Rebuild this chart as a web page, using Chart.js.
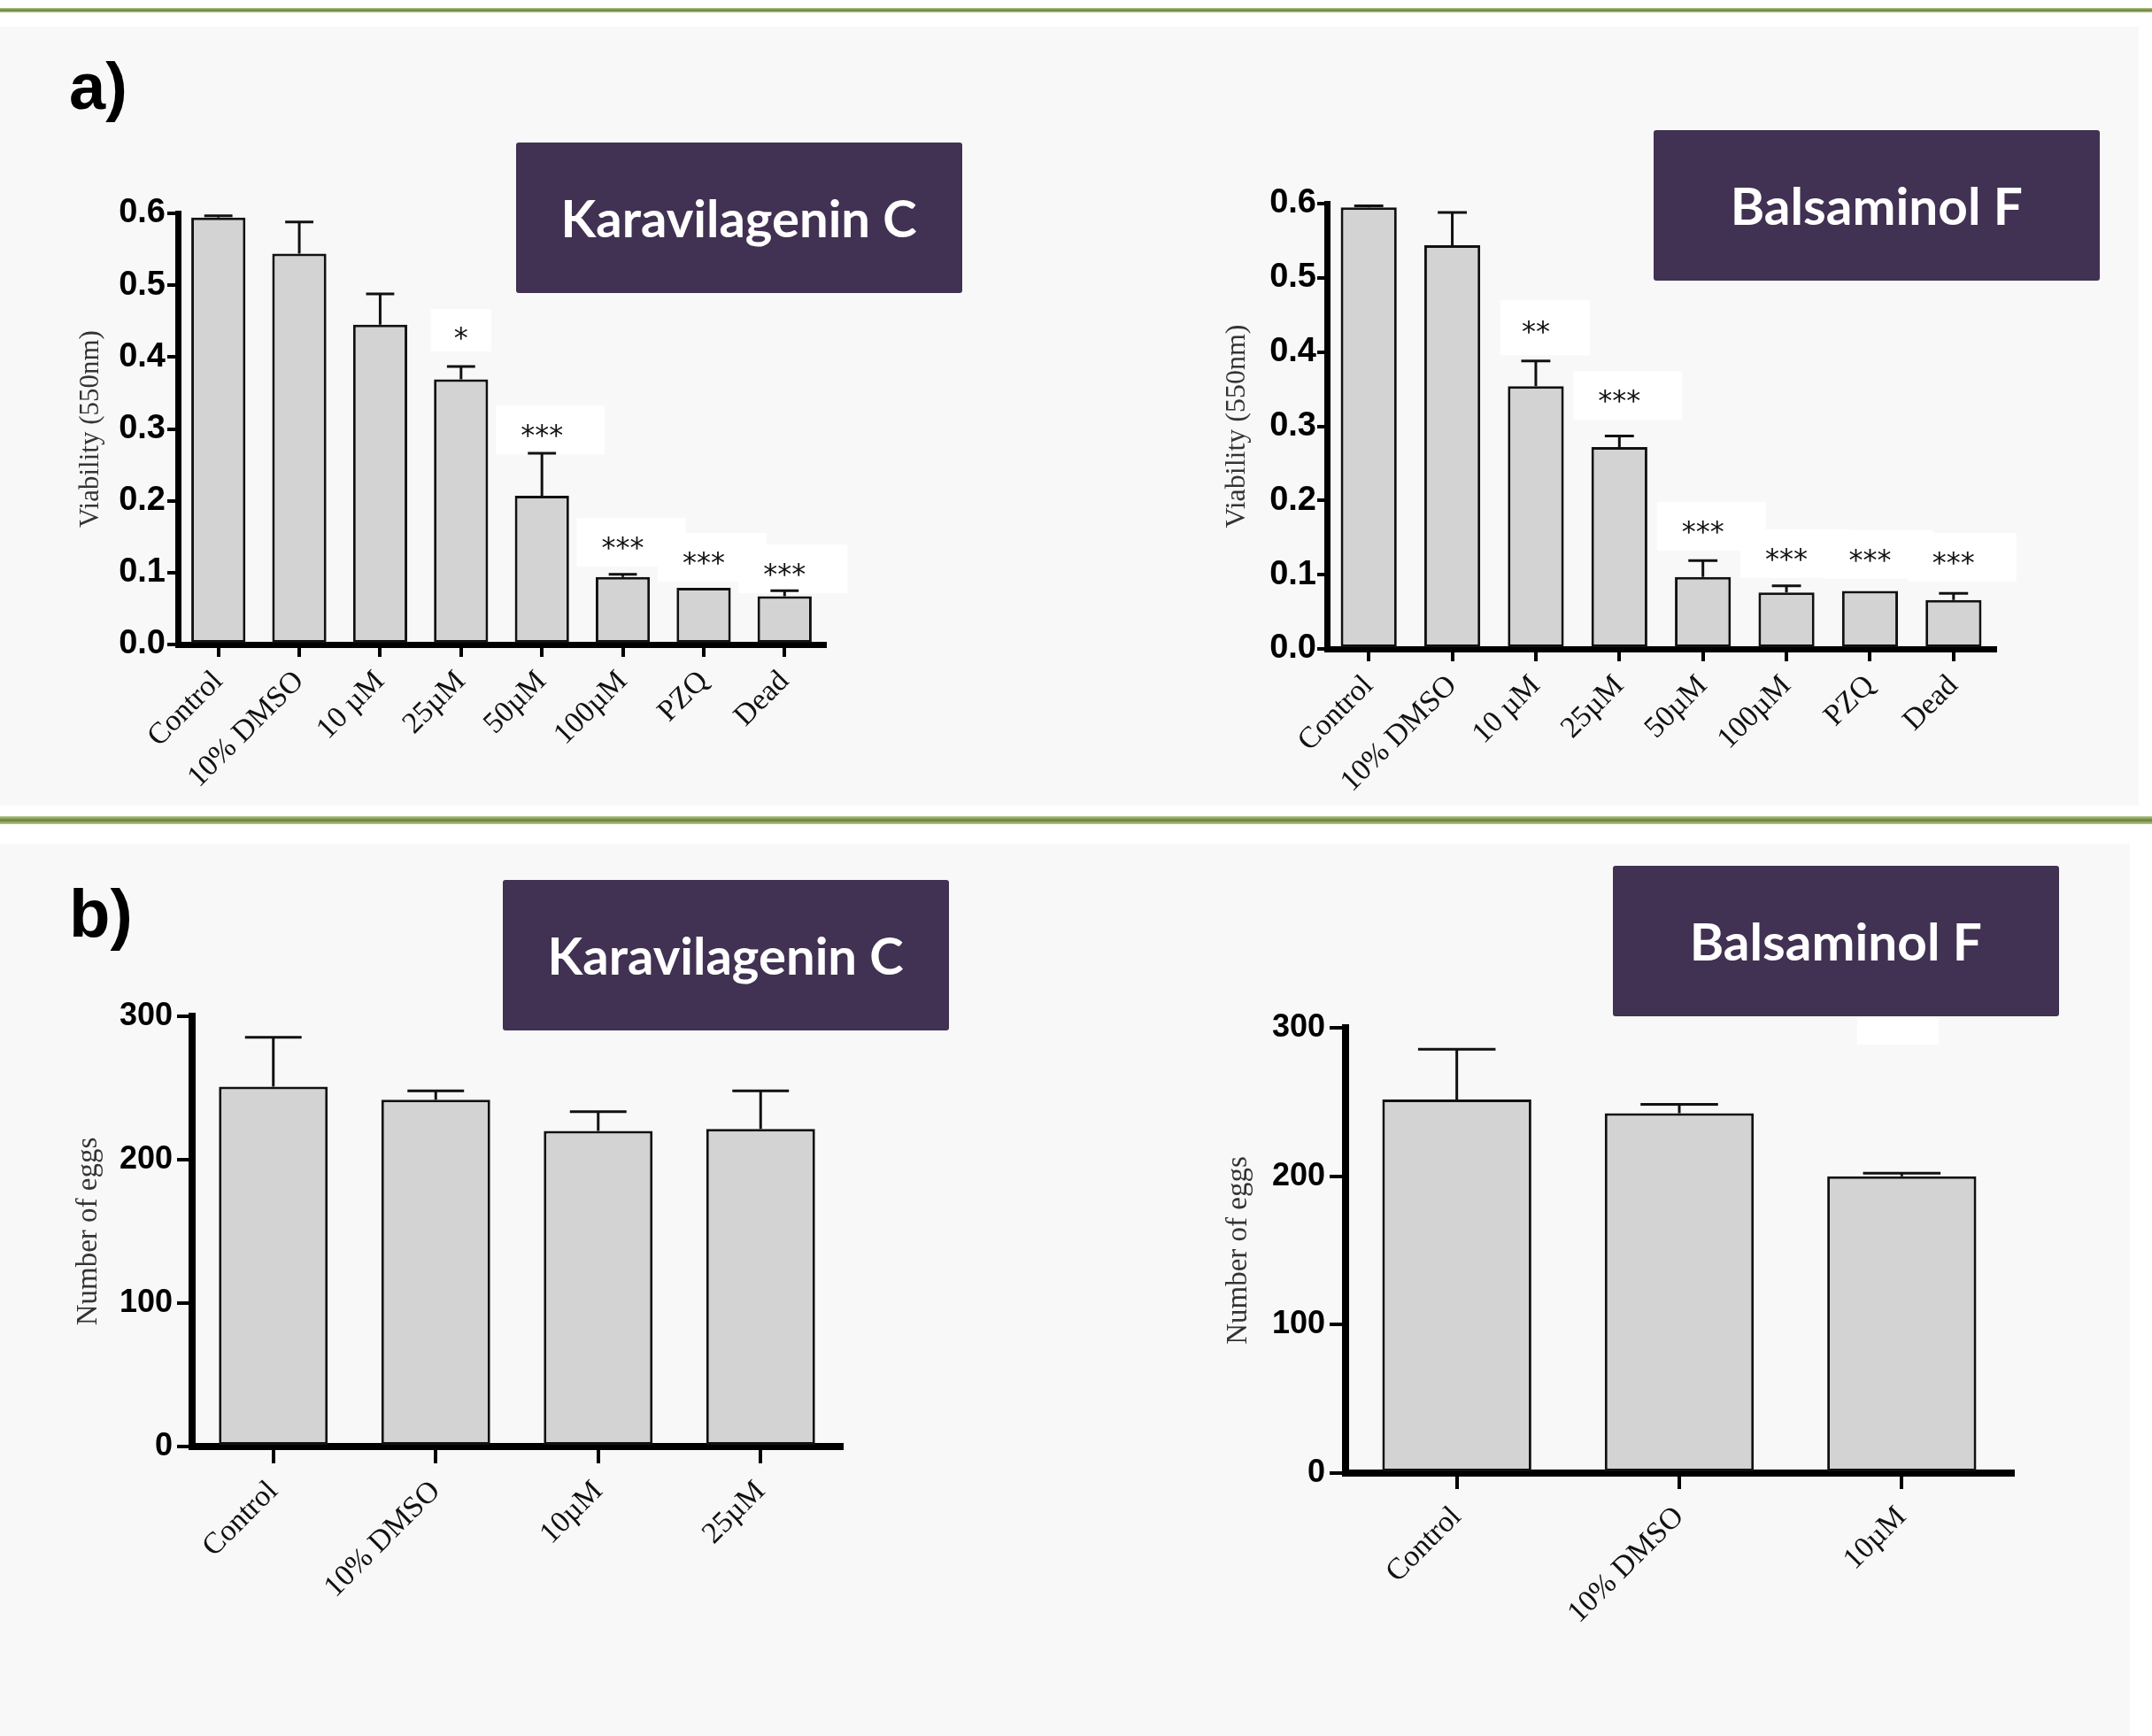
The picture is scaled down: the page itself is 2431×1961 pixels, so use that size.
<!DOCTYPE html>
<html>
<head>
<meta charset="utf-8">
<script src="https://cdn.jsdelivr.net/npm/chart.js@4.4.1/dist/chart.umd.min.js"></script>
<style>
  html, body { margin: 0; padding: 0; background: #fff; }
  body { width: 2431px; height: 1961px; position: relative; overflow: hidden; }
  .panel { position: absolute; left: 0; background: #f8f8f8; }
  .rule { position: absolute; left: 0; width: 2431px; background: linear-gradient(#b8c792, #6b8436 50%, #b8c792); }
  .tag { position: absolute; font: bold 74px "Liberation Sans", Arial, sans-serif; line-height: 1; color: #000; }
  .title { position: absolute; width: 504px; height: 170px; background: #413152; border-radius: 3px;
           display: flex; align-items: center; justify-content: center; z-index: 2; }
  .title span { font: bold 57px Lato, "Open Sans", sans-serif; color: #fff; white-space: nowrap; display: inline-block; }
  canvas { position: absolute; z-index: 1; }
</style>
</head>
<body>
<div class="rule" style="top:9px;height:5px"></div>
<div class="panel" style="top:30px;height:880px;width:2416px"></div>
<div class="rule" style="top:922px;height:9px"></div>
<div class="panel" style="top:953px;height:1008px;width:2406px"></div>

<div class="tag" style="left:78px;top:61px">a)</div>
<div class="tag" style="left:78px;top:994px;font-size:76px">b)</div>

<div class="title" style="left:583px;top:161px"><span data-w="402">Karavilagenin C</span></div>
<div class="title" style="left:1868px;top:147px"><span data-w="330">Balsaminol F</span></div>
<div class="title" style="left:568px;top:994px"><span data-w="402">Karavilagenin C</span></div>
<div class="title" style="left:1822px;top:978px"><span data-w="330">Balsaminol F</span></div>
<div style="position:absolute;left:2098px;top:1150px;width:92px;height:30px;background:#fff"></div>

<canvas id="viaKara"></canvas>
<canvas id="viaBals"></canvas>
<canvas id="eggKara"></canvas>
<canvas id="eggBals"></canvas>

<script>
// viability (550nm) after treatment
const viabilityLabels = ['Control', '10% DMSO', '10 µM', '25µM', '50µM', '100µM', 'PZQ', 'Dead'];
const viabilityTicks = [0, 0.1, 0.2, 0.3, 0.4, 0.5, 0.6];

const karaViability = [0.594, 0.544, 0.445, 0.369, 0.207, 0.094, 0.079, 0.067];
const karaViabilityErr = [0.0025, 0.044, 0.043, 0.018, 0.059, 0.0035, 0, 0.008];
const karaStars = ['', '', '', '*', '***', '***', '***', '***'];
const karaStarAt = [null, null, null, 0.435, 0.299, 0.143, 0.122, 0.106];

const balsViability = [0.595, 0.544, 0.354, 0.272, 0.097, 0.076, 0.078, 0.066];
const balsViabilityErr = [0.002, 0.044, 0.034, 0.015, 0.022, 0.009, 0, 0.009];
const balsStars = ['', '', '**', '***', '***', '***', '***', '***'];
const balsStarAt = [null, null, 0.435, 0.342, 0.166, 0.129, 0.128, 0.124];

// number of eggs
const eggTicks = [0, 100, 200, 300];
const karaEggLabels = ['Control', '10% DMSO', '10µM', '25µM'];
const karaEggs = [251, 241.8, 220, 221.4];
const karaEggsErr = [34.4, 6.2, 13.5, 26.6];
const balsEggLabels = ['Control', '10% DMSO', '10µM'];
const balsEggs = [251.7, 242.4, 200];
const balsEggsErr = [33.9, 6, 2];

// upward error bars with caps
const errorBarPlugin = {
  id: 'errorBars',
  afterDatasetsDraw(chart, args, opts) {
    const { ctx } = chart;
    const y = chart.scales.y;
    const values = chart.data.datasets[0].data;
    ctx.save();
    ctx.strokeStyle = '#111';
    ctx.lineWidth = opts.lineWidth || 3;
    chart.getDatasetMeta(0).data.forEach((bar, i) => {
      const e = opts.errors[i];
      if (!e) return;
      const top = y.getPixelForValue(values[i] + e);
      const half = bar.width * 0.26;
      ctx.beginPath();
      ctx.moveTo(bar.x, bar.y);
      ctx.lineTo(bar.x, top);
      ctx.moveTo(bar.x - half, top);
      ctx.lineTo(bar.x + half, top);
      ctx.stroke();
    });
    ctx.restore();
  }
};

// significance stars on little white patches
const starBoxes = { 1: [34, 34, 26, 22], 2: [40, 61, 29, 33], 3: [52, 71, 27, 28] };
const starPlugin = {
  id: 'stars',
  beforeDatasetsDraw(chart, args, opts) {
    if (!opts.marks) return;
    const { ctx } = chart;
    const y = chart.scales.y;
    ctx.save();
    ctx.fillStyle = '#ffffff';
    chart.getDatasetMeta(0).data.forEach((bar, i) => {
      const s = opts.marks[i];
      if (!s) return;
      const [l, r, t, b] = starBoxes[s.length];
      const py = y.getPixelForValue(opts.at[i]);
      ctx.fillRect(bar.x - l, py - t, l + r, t + b);
    });
    ctx.restore();
  },
  afterDatasetsDraw(chart, args, opts) {
    if (!opts.marks) return;
    const { ctx } = chart;
    const y = chart.scales.y;
    ctx.save();
    ctx.fillStyle = '#111';
    ctx.font = '32px "DejaVu Sans"';
    ctx.textAlign = 'center';
    ctx.textBaseline = 'alphabetic';
    chart.getDatasetMeta(0).data.forEach((bar, i) => {
      const s = opts.marks[i];
      if (!s) return;
      ctx.fillText(s, bar.x, y.getPixelForValue(opts.at[i]) + 17);
    });
    ctx.restore();
  }
};

function buildChart(id, cfg) {
  const { box, area } = cfg;
  const canvas = document.getElementById(id);
  canvas.width = box.w;
  canvas.height = box.h;
  Object.assign(canvas.style, {
    left: box.x + 'px', top: box.y + 'px', width: box.w + 'px', height: box.h + 'px'
  });
  const lineH = cfg.titleSize * 1.2;

  return new Chart(canvas, {
    type: 'bar',
    data: {
      labels: cfg.labels,
      datasets: [{
        data: cfg.values,
        backgroundColor: '#d3d3d3',
        borderColor: '#111',
        borderWidth: 3,
        borderSkipped: false,
        barPercentage: 0.67,
        categoryPercentage: 1,
      }],
    },
    options: {
      responsive: false,
      animation: false,
      devicePixelRatio: 1,
      layout: {
        padding: { left: 0, top: area.top - box.y, right: box.x + box.w - area.right, bottom: 0 },
      },
      plugins: {
        legend: { display: false },
        tooltip: { enabled: false },
        errorBars: { errors: cfg.errors },
        stars: { marks: cfg.stars, at: cfg.starAt },
      },
      scales: {
        x: {
          offset: true,
          afterFit: (s) => { s.height = box.y + box.h - area.bottom; },
          ticks: {
            autoSkip: false, minRotation: 45, maxRotation: 45, padding: cfg.xLabelPad,
            color: '#111', font: { family: 'Liberation Serif', size: 34 },
          },
          grid: {
            display: true, offset: false, drawOnChartArea: false, drawTicks: true,
            tickLength: cfg.xTick, lineWidth: 4, color: '#000',
          },
          border: { display: true, width: cfg.axisW, color: '#000' },
        },
        y: {
          min: 0,
          max: cfg.ticks[cfg.ticks.length - 1],
          afterFit: (s) => { s.width = area.left - box.x; },
          afterBuildTicks: (s) => { s.ticks = cfg.ticks.map((v) => ({ value: v })); },
          ticks: {
            padding: cfg.labelPad,
            color: '#000',
            font: { family: 'Liberation Sans', weight: 'bold', size: cfg.tickSize },
            callback: cfg.fmt,
          },
          grid: {
            display: true, drawOnChartArea: false, drawTicks: true,
            tickLength: cfg.yTick, lineWidth: 4, color: '#000',
          },
          border: { display: true, width: cfg.axisW, color: '#000' },
          title: {
            display: true, text: cfg.yTitle, color: '#333',
            font: { family: 'Liberation Serif', size: cfg.titleSize },
            padding: { top: cfg.titleX - lineH / 2, bottom: 0 },
          },
        },
      },
    },
    plugins: [errorBarPlugin, starPlugin],
  });
}

const fmt1 = (v) => Number(v).toFixed(1);
const fmt0 = (v) => String(v);

buildChart('viaKara', {
  box: { x: 0, y: 200, w: 1000, h: 715 },
  area: { left: 201, top: 241, right: 932, bottom: 728 },
  labels: viabilityLabels, values: karaViability, errors: karaViabilityErr,
  stars: karaStars, starAt: karaStarAt, ticks: viabilityTicks, fmt: fmt1,
  yTitle: 'Viability (550nm)', titleSize: 31, titleX: 103,
  yTick: 12, xTick: 14, labelPad: 2, axisW: 7, tickSize: 38, xLabelPad: 8,
});

buildChart('viaBals', {
  box: { x: 1300, y: 190, w: 1000, h: 725 },
  area: { left: 1499, top: 230, right: 2254, bottom: 733 },
  labels: viabilityLabels, values: balsViability, errors: balsViabilityErr,
  stars: balsStars, starAt: balsStarAt, ticks: viabilityTicks, fmt: fmt1,
  yTitle: 'Viability (550nm)', titleSize: 32, titleX: 98,
  yTick: 11, xTick: 14, labelPad: 1, axisW: 7, tickSize: 38, xLabelPad: 8,
});

buildChart('eggKara', {
  box: { x: 0, y: 1100, w: 1010, h: 800 },
  area: { left: 217, top: 1148, right: 951, bottom: 1634 },
  labels: karaEggLabels, values: karaEggs, errors: karaEggsErr,
  ticks: eggTicks, fmt: fmt0,
  yTitle: 'Number of eggs', titleSize: 33, titleX: 100,
  yTick: 17, xTick: 19, labelPad: 5, axisW: 8, tickSize: 36, xLabelPad: 12,
});

buildChart('eggBals', {
  box: { x: 1300, y: 1110, w: 1050, h: 790 },
  area: { left: 1520, top: 1161, right: 2274, bottom: 1664 },
  labels: balsEggLabels, values: balsEggs, errors: balsEggsErr,
  ticks: eggTicks, fmt: fmt0,
  yTitle: 'Number of eggs', titleSize: 33, titleX: 99,
  yTick: 18, xTick: 18, labelPad: 5, axisW: 8, tickSize: 36, xLabelPad: 12,
});

// squeeze the box titles to the narrow width of the original lettering
document.querySelectorAll('.title span').forEach((el) => {
  const w = el.getBoundingClientRect().width;
  el.style.transform = 'scaleX(' + (Number(el.dataset.w) / w) + ')';
});
</script>
</body>
</html>
